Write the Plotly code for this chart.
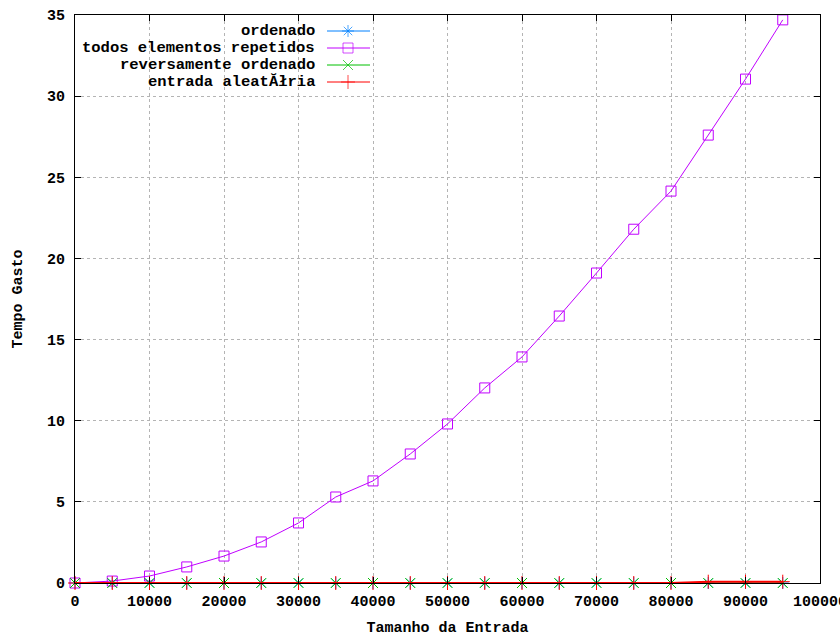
import plotly.graph_objects as go

# Input sizes (x axis)
tamanhos = [0, 5000, 10000, 15000, 20000, 25000, 30000, 35000, 40000, 45000,
            50000, 55000, 60000, 65000, 70000, 75000, 80000, 85000, 90000, 95000]

# Time spent for each input type
ordenado = [0.0, 0.0, 0.0, 0.0, 0.0, 0.0, 0.0, 0.0, 0.0, 0.0,
            0.0, 0.0, 0.0, 0.0, 0.0, 0.0, 0.0, 0.0, 0.0, 0.0]
repetidos = [0.0, 0.12, 0.43, 0.99, 1.66, 2.53, 3.70, 5.30, 6.29, 7.95,
             9.80, 12.02, 13.93, 16.45, 19.10, 21.80, 24.15, 27.60, 31.05, 34.70]
reversamente = [0.0, 0.0, 0.0, 0.0, 0.0, 0.0, 0.0, 0.0, 0.0, 0.0,
                0.0, 0.0, 0.0, 0.0, 0.0, 0.0, 0.0, 0.0, 0.0, 0.0]
aleatoria = [0.0, 0.0, 0.0, 0.0, 0.0, 0.0, 0.0, 0.0, 0.0, 0.0,
             0.0, 0.0, 0.0, 0.0, 0.0, 0.0, 0.0, 0.08, 0.08, 0.08]

series_nomes = ["ordenado", "todos elementos repetidos",
                "reversamente ordenado", "entrada aleatĂłria"]
series_valores = [ordenado, repetidos, reversamente, aleatoria]
cores = ["#0080ff", "#c000ff", "#00c000", "#ff0000"]
simbolos = ["asterisk-open", "square-open", "x-thin-open", "cross-thin-open"]
larguras = [1, 1, 1, 2]

x_ticks = [0, 10000, 20000, 30000, 40000, 50000, 60000, 70000, 80000, 90000, 100000]
y_ticks = [0, 5, 10, 15, 20, 25, 30, 35]

FONT = "Liberation Mono"
fig = go.Figure()

for nome, vals, cor, simb, lw in zip(series_nomes, series_valores, cores, simbolos, larguras):
    fig.add_trace(go.Scatter(
        x=tamanhos, y=vals, name=nome, mode="lines+markers",
        line=dict(color=cor, width=lw),
        marker=dict(symbol=simb, size=10, color=cor, line=dict(color=cor, width=1)),
        cliponaxis=False, showlegend=False,
    ))

# Key in the top-left corner: text on the left, line sample with symbol on the right
row_y = [16, 33, 50, 67]
for nome, cor, simb, ry in zip(series_nomes, cores, simbolos, row_y):
    fig.add_trace(go.Scatter(
        x=[252, 273, 295], y=[ry, ry, ry], xaxis="x2", yaxis="y2",
        mode="lines+markers", line=dict(color=cor, width=1),
        marker=dict(symbol=simb, size=[0, 10, 0], color=cor,
                    line=dict(color=cor, width=1)),
        showlegend=False, hoverinfo="skip", cliponaxis=False,
    ))
    fig.add_annotation(x=242, y=ry, xref="x2", yref="y2", text=nome,
                       showarrow=False, xanchor="right", yanchor="middle",
                       font=dict(family=FONT, size=15.5, color="black", weight="bold"))

axis_common = dict(
    showline=True, linecolor="black", linewidth=1, mirror="allticks",
    ticks="inside", ticklen=6, tickcolor="black",
    showgrid=True, gridcolor="#b4b4b4", griddash="dot", gridwidth=1,
    zeroline=False, automargin=False, ticklabeloverflow="allow",
    tickfont=dict(family=FONT, size=15, color="black", weight="bold"),
)

fig.update_layout(
    width=840, height=637,
    margin=dict(l=75, r=20, t=15, b=54),
    paper_bgcolor="white", plot_bgcolor="white",
    xaxis=dict(range=[0, 100000], tickvals=x_ticks,
               ticktext=[str(v) for v in x_ticks],
               ticklabelstandoff=4,
               title=dict(text="Tamanho da Entrada", standoff=14,
                          font=dict(family=FONT, size=15, color="black", weight="bold")),
               **axis_common),
    yaxis=dict(range=[0, 35], tickvals=y_ticks,
               ticktext=[str(v) for v in y_ticks],
               ticklabelstandoff=6,
               title=dict(text="Tempo Gasto", standoff=20,
                          font=dict(family=FONT, size=15, color="black", weight="bold")),
               **axis_common),
    xaxis2=dict(overlaying="x", range=[0, 745], visible=False, fixedrange=True),
    yaxis2=dict(overlaying="y", range=[568, 0], visible=False, fixedrange=True),
    showlegend=False,
)

fig.write_html("out.html")
